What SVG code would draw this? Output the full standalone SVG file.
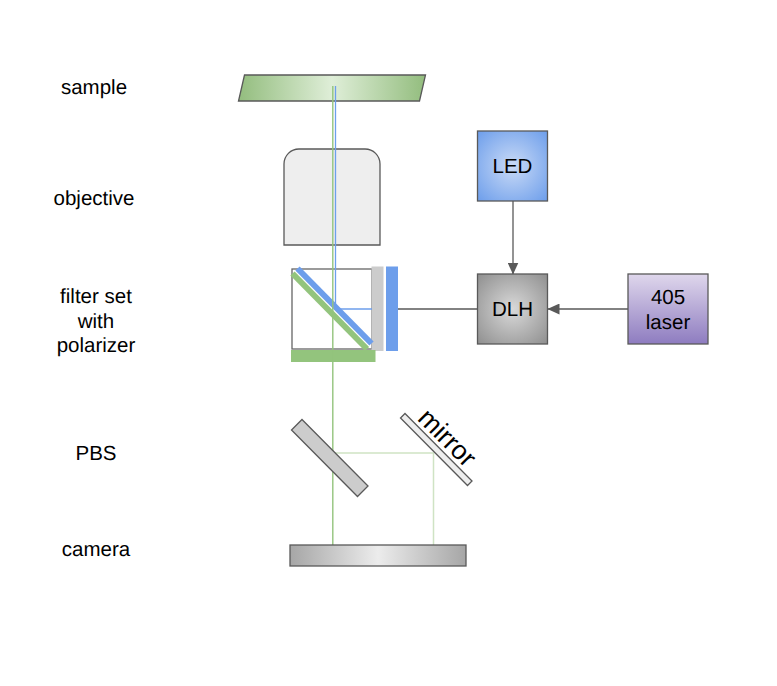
<svg xmlns="http://www.w3.org/2000/svg" width="777" height="686" viewBox="0 0 777 686">
<style>
text{font-family:"Liberation Sans",Arial,sans-serif;font-size:20.5px;fill:#000;text-anchor:middle;text-rendering:geometricPrecision}
.n{stroke:#595959;stroke-width:1.3}
.c{stroke:#595959;stroke-width:1.3;fill:none}
.g{stroke:#93c47d;stroke-width:1.4;fill:none}
.b{stroke:#6d9eeb;stroke-width:1.3;fill:none}
.lg{stroke:#cfe3c4;stroke-width:1.5;fill:none}
</style>
<defs>
<linearGradient id="sg2" x1="0" x2="1" y1="0" y2="0"><stop offset="0" stop-color="#93bd7e"/><stop offset="0.5" stop-color="#dfeed8"/><stop offset="1" stop-color="#93bd7e"/></linearGradient>
<linearGradient id="cg" x1="0" x2="1" y1="0" y2="0"><stop offset="0" stop-color="#a6a6a6"/><stop offset="0.5" stop-color="#ececec"/><stop offset="1" stop-color="#a6a6a6"/></linearGradient>
<radialGradient id="lg" cx="0.5" cy="0.5" r="0.7"><stop offset="0" stop-color="#c9daf6"/><stop offset="1" stop-color="#6d9eeb"/></radialGradient>
<radialGradient id="dg" cx="0.5" cy="0.5" r="0.7"><stop offset="0" stop-color="#d9d9d9"/><stop offset="1" stop-color="#8f8f8f"/></radialGradient>
<linearGradient id="vg" x1="0" x2="0" y1="0" y2="1"><stop offset="0" stop-color="#dfd7ec"/><stop offset="1" stop-color="#8e7cc0"/></linearGradient>
<marker id="a" viewBox="0 0 12 11" refX="11.500" refY="5.500" markerUnits="userSpaceOnUse" markerWidth="12" markerHeight="11" orient="auto"><path d="M0 0L12 5.500L0 11Z" fill="#595959"/></marker>
</defs>
<g id="sample"><path class="n" d="M244.500 75H425.500L419.500 101H238.500Z" fill="url(#sg2)"/></g>
<g id="objective"><path class="n" d="M284 245V164A15 15 0 0 1 299 149H365A15 15 0 0 1 380 164V245Z" fill="#eee"/></g>
<g id="filter-set">
<rect x="292" y="269" width="80" height="80" fill="#fff" stroke="#666" stroke-width="1.3"/>
<rect x="371.500" y="266.500" width="12" height="84.500" fill="#ccc"/>
<rect x="386" y="266.500" width="12" height="84.500" fill="#6d9eeb"/>
<path d="M297.500 268.500L371.500 343.500" stroke="#6d9eeb" stroke-width="6" fill="none"/>
<path d="M292.500 273.500L367 349" stroke="#93c47d" stroke-width="6" fill="none"/>
<rect x="291" y="350" width="84.500" height="12" fill="#93c47d"/>
</g>
<g id="connectors">
<path class="g" d="M332.800 86V545"/>
<path class="b" d="M335.500 86V309H372"/>
<path class="lg" d="M333 453H433.500V545"/>
<path class="c" d="M513 201V274" marker-end="url(#a)"/>
<path class="c" d="M628 309H548" marker-end="url(#a)"/>
<path class="c" d="M398 309H477.500"/>
</g>
<g id="pbs"><path class="n" d="M302 419.500L368 486L357.500 496.500L291.500 430Z" fill="#ccc"/></g>
<g id="mirror"><path class="n" d="M405 413.500L472 481L467.500 485.500L400.500 418Z" fill="#eee"/>
<text transform="translate(446 439) rotate(45)" x="0" y="7" style="font-size:26.5px">mirror</text></g>
<g id="camera"><rect class="n" x="290" y="545" width="176" height="21" fill="url(#cg)"/></g>
<g id="led"><rect class="n" x="477.500" y="131" width="70" height="70" fill="url(#lg)"/><text x="512.500" y="173">LED</text></g>
<g id="dlh"><rect class="n" x="477.500" y="274" width="70" height="70" fill="url(#dg)"/><text x="512.500" y="316">DLH</text></g>
<g id="laser"><rect class="n" x="628" y="274" width="80" height="70" fill="url(#vg)"/><text x="668" y="304">405</text><text x="668" y="329">laser</text></g>
<g id="labels">
<text x="94" y="94">sample</text>
<text x="94" y="205">objective</text>
<text x="96" y="303">filter set</text>
<text x="96" y="328">with</text>
<text x="96" y="352">polarizer</text>
<text x="96" y="460">PBS</text>
<text x="96" y="556">camera</text>
</g>
</svg>
